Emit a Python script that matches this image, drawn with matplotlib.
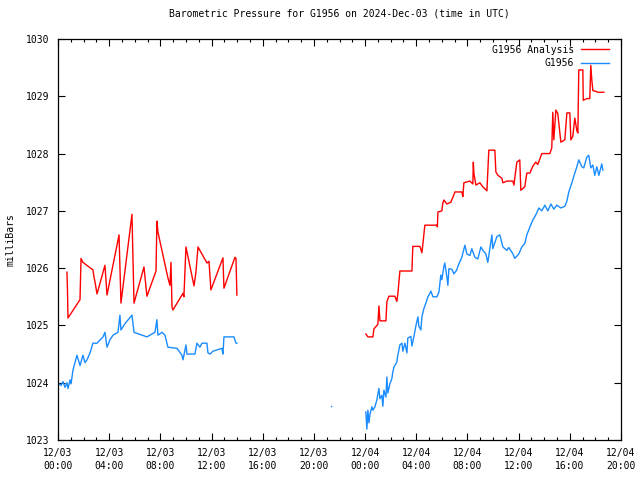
import numpy as np
import matplotlib
matplotlib.use("Agg")
import matplotlib.pyplot as plt

# hours since 2024-12-03 00:00 UTC
red1_t = [0.70, 0.74, 0.78, 1.72, 1.80, 1.95, 2.73, 2.81, 2.89, 3.05, 3.67, 3.83, 4.77, 4.92,
          5.78, 5.94, 6.72, 6.95, 7.66, 7.73, 7.81, 8.59, 8.75, 8.83, 8.91, 8.98, 9.77, 9.84,
          10.00, 10.63, 10.78, 10.94, 11.64, 11.80, 11.95, 12.89, 12.97, 13.83, 13.91, 13.98]
red1_v = [1025.93, 1025.63, 1025.13, 1025.45, 1026.17, 1026.10, 1025.97, 1025.85, 1025.76, 1025.55,
          1026.05, 1025.53, 1026.58, 1025.39, 1026.94, 1025.39, 1026.02, 1025.51, 1025.95, 1026.82,
          1026.63, 1025.83, 1025.70, 1026.10, 1025.32, 1025.27, 1025.56, 1025.50, 1026.37, 1025.69,
          1025.93, 1026.37, 1026.09, 1026.12, 1025.62, 1026.18, 1025.65, 1026.19, 1026.17, 1025.53]

red2_t = [24.06, 24.22, 24.61, 24.69, 25.00, 25.08, 25.16, 25.63, 25.70, 25.86, 26.33, 26.48,
          26.56, 26.72, 27.66, 27.73, 28.28, 28.44, 28.52, 28.67, 29.61, 29.65, 29.69, 30.00,
          30.08, 30.16, 30.39, 30.70, 30.94, 31.02, 31.56, 31.64, 31.72, 32.19, 32.42, 32.46,
          32.50, 32.66, 32.97, 33.20, 33.52, 33.67, 34.14, 34.22, 34.38, 34.69, 34.77, 35.08,
          35.55, 35.63, 35.86, 36.09, 36.17, 36.48, 36.64, 36.88, 37.11, 37.34, 37.50, 37.81,
          38.44, 38.59, 38.67, 38.75, 38.91, 39.06, 39.30, 39.61, 39.77, 40.00, 40.08, 40.23,
          40.39, 40.55, 40.63, 40.70, 41.02, 41.05, 41.33, 41.56, 41.64, 41.72, 41.80, 42.11,
          42.19, 42.66]
red2_v = [1024.85, 1024.80, 1024.80, 1024.94, 1025.02, 1025.34, 1025.08, 1025.08, 1025.41, 1025.51,
          1025.51, 1025.42, 1025.55, 1025.95, 1025.95, 1026.38, 1026.38, 1026.27, 1026.43, 1026.75,
          1026.75, 1026.72, 1026.98, 1027.00, 1027.14, 1027.19, 1027.12, 1027.15, 1027.28, 1027.33,
          1027.33, 1027.25, 1027.49, 1027.52, 1027.47, 1027.85, 1027.66, 1027.45, 1027.49, 1027.42,
          1027.35, 1028.06, 1028.06, 1027.68, 1027.62, 1027.57, 1027.49, 1027.52, 1027.52, 1027.45,
          1027.85, 1027.89, 1027.36, 1027.42, 1027.66, 1027.66, 1027.78, 1027.85, 1027.81, 1028.00,
          1028.00, 1028.10, 1028.72, 1028.24, 1028.76, 1028.70, 1028.20, 1028.24, 1028.71, 1028.71,
          1028.24, 1028.30, 1028.62, 1028.40, 1028.36, 1029.46, 1029.46, 1028.93, 1028.96, 1028.96,
          1029.54, 1029.28, 1029.10, 1029.08, 1029.07, 1029.07]

blue1_t = [0.00, 0.23, 0.39, 0.55, 0.70, 0.78, 0.94, 1.02, 1.17, 1.48, 1.72, 1.95, 2.11, 2.27,
           2.50, 2.73, 3.05, 3.52, 3.67, 3.83, 4.06, 4.30, 4.69, 4.84, 4.92, 5.23, 5.78, 5.94,
           6.56, 6.95, 7.19, 7.58, 7.73, 7.81, 8.13, 8.36, 8.59, 9.30, 9.69, 9.77, 10.00, 10.08,
           10.70, 10.86, 11.09, 11.25, 11.64, 11.72, 11.88, 12.11, 12.81, 12.89, 12.97, 13.75,
           13.91, 13.98]
blue1_v = [1024.00, 1023.95, 1024.02, 1023.92, 1024.00, 1023.90, 1024.05, 1023.98, 1024.22, 1024.48,
           1024.30, 1024.48, 1024.35, 1024.40, 1024.52, 1024.69, 1024.69, 1024.80, 1024.88, 1024.62,
           1024.75, 1024.83, 1024.88, 1025.18, 1024.92, 1025.03, 1025.18, 1024.88, 1024.83, 1024.80,
           1024.83, 1024.88, 1025.10, 1024.83, 1024.88, 1024.83, 1024.62, 1024.60, 1024.48, 1024.40,
           1024.66, 1024.50, 1024.50, 1024.69, 1024.62, 1024.69, 1024.69, 1024.52, 1024.50, 1024.55,
           1024.60, 1024.50, 1024.80, 1024.80, 1024.69, 1024.69]

blue_lone_t = [21.33]
blue_lone_v = [1023.59]

blue2_t = [24.06, 24.14, 24.22, 24.30, 24.38, 24.53, 24.61, 24.77, 24.92, 25.08, 25.16, 25.31,
           25.39, 25.47, 25.63, 25.70, 25.78, 25.94, 26.09, 26.17, 26.25, 26.48, 26.56, 26.72,
           26.88, 26.95, 27.11, 27.27, 27.34, 27.58, 27.66, 27.81, 27.97, 28.13, 28.20, 28.36,
           28.44, 28.59, 28.75, 28.91, 29.06, 29.14, 29.30, 29.61, 29.77, 29.92, 30.00, 30.16,
           30.23, 30.39, 30.47, 30.55, 30.78, 30.94, 31.17, 31.25, 31.56, 31.80, 31.95, 32.19,
           32.34, 32.58, 32.81, 33.05, 33.20, 33.44, 33.59, 33.91, 33.98, 34.30, 34.53, 34.77,
           35.08, 35.23, 35.55, 35.70, 36.02, 36.25, 36.48, 36.64, 36.88, 37.11, 37.34, 37.58,
           37.81, 38.05, 38.28, 38.52, 38.75, 38.98, 39.30, 39.61, 39.77, 39.92, 40.16, 40.39,
           40.55, 40.70, 40.94, 41.09, 41.33, 41.48, 41.64, 41.80, 41.95, 42.11, 42.27, 42.50,
           42.58]
blue2_v = [1023.49, 1023.19, 1023.52, 1023.30, 1023.45, 1023.58, 1023.52, 1023.58, 1023.70, 1023.90,
           1023.72, 1023.78, 1023.59, 1023.87, 1023.75, 1024.10, 1023.82, 1023.98, 1024.07, 1024.19,
           1024.27, 1024.36, 1024.48, 1024.66, 1024.69, 1024.55, 1024.69, 1024.52, 1024.78, 1024.81,
           1024.64, 1024.80, 1024.99, 1025.15, 1024.99, 1024.92, 1025.15, 1025.29, 1025.39, 1025.50,
           1025.56, 1025.60, 1025.50, 1025.50, 1025.58, 1025.88, 1025.80, 1026.03, 1026.09, 1025.85,
           1025.70, 1025.99, 1025.98, 1025.90, 1025.97, 1026.03, 1026.19, 1026.40, 1026.25, 1026.22,
           1026.34, 1026.19, 1026.16, 1026.37, 1026.31, 1026.25, 1026.10, 1026.58, 1026.34, 1026.55,
           1026.58, 1026.37, 1026.31, 1026.36, 1026.25, 1026.17, 1026.25, 1026.37, 1026.43, 1026.58,
           1026.72, 1026.84, 1026.93, 1027.05, 1027.00, 1027.10, 1027.00, 1027.12, 1027.03, 1027.10,
           1027.05, 1027.08, 1027.17, 1027.33, 1027.49, 1027.66, 1027.77, 1027.89, 1027.77, 1027.75,
           1027.94, 1027.97, 1027.75, 1027.80, 1027.62, 1027.77, 1027.62, 1027.82, 1027.71]

xtick_hours = [0, 4, 8, 12, 16, 20, 24, 28, 32, 36, 40, 44]
xtick_labels = ["12/03\n00:00", "12/03\n04:00", "12/03\n08:00", "12/03\n12:00", "12/03\n16:00",
                "12/03\n20:00", "12/04\n00:00", "12/04\n04:00", "12/04\n08:00", "12/04\n12:00",
                "12/04\n16:00", "12/04\n20:00"]
ytick_vals = [1023, 1024, 1025, 1026, 1027, 1028, 1029, 1030]

RED = "#ff0000"
BLUE = "#1a8cff"

plt.rcParams['font.family'] = ['DejaVu Sans Mono']
plt.rcParams['font.size'] = 7

fig = plt.figure(figsize=(6.4, 4.8), dpi=100)
ax = fig.add_axes([58/640, 40/480, (621-58)/640, (440-39)/480])

nan = [np.nan]
red_t = red1_t + nan + red2_t
red_v = red1_v + nan + red2_v
blue_t = blue1_t + nan + blue2_t
blue_v = blue1_v + nan + blue2_v

ax.plot(red_t, red_v, color=RED, lw=1.0, label="G1956 Analysis")
ax.plot(blue_t, blue_v, color=BLUE, lw=1.0, label="G1956")
ax.plot(blue_lone_t, blue_lone_v, color=BLUE, lw=0, marker='s', markersize=1.0, mew=0)

ax.set_xlim(0, 44)
ax.set_ylim(1023, 1030)
ax.set_xticks(xtick_hours)
ax.set_xticklabels(xtick_labels, linespacing=1.35)
ax.set_xticks(np.arange(0, 45, 1), minor=True)
ax.set_yticks(ytick_vals)
ax.set_yticklabels([str(v) for v in ytick_vals])

ax.tick_params(axis='both', which='major', direction='in', length=5, width=0.8,
               top=True, right=True, labelsize=7, pad=6, color='black')
ax.tick_params(axis='x', which='minor', direction='in', length=2.5, width=0.8,
               top=True, bottom=True)
for s in ax.spines.values():
    s.set_linewidth(0.9)

ax.set_ylabel("milliBars", fontsize=7, labelpad=8)
ax.set_title("Barometric Pressure for G1956 on 2024-Dec-03 (time in UTC)", fontsize=7, pad=16)

leg = ax.legend(loc='upper right', bbox_to_anchor=(1 - 6/563, 1.0), frameon=False,
                markerfirst=False, handlelength=2.9, handletextpad=0.7, borderaxespad=0.2,
                labelspacing=0.35, fontsize=7)
try:
    for col in leg._legend_handle_box.get_children():
        col.align = "right"
except Exception:
    pass

fig.savefig("out.png", dpi=100)
